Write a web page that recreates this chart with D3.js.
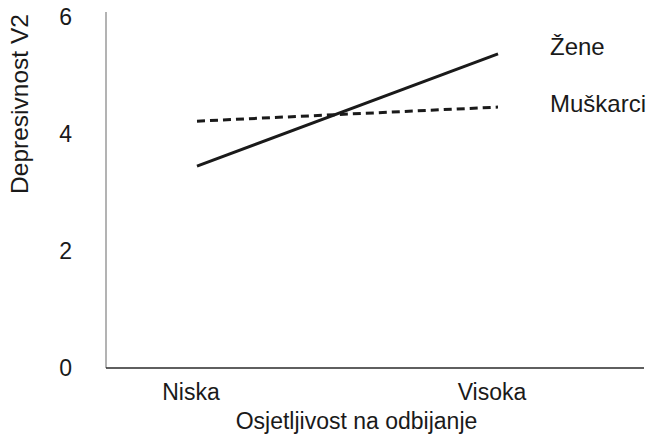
<!DOCTYPE html>
<html>
<head>
<meta charset="utf-8">
<script src="https://cdn.jsdelivr.net/npm/d3@7"></script>
<style>
  html, body { margin: 0; padding: 0; background: #fff; }
  svg { display: block; font-family: "Liberation Sans", Arial, sans-serif; }
</style>
</head>
<body>
<svg id="chart" width="648" height="435"></svg>
<script>
// Categories on the x axis
const categories = ["Niska", "Visoka"];
// Series names and their values at each category
const seriesNames = ["Žene", "Muškarci"];
const zeneValues = [3.45, 5.37];
const muskarciValues = [4.22, 4.46];
// Y tick values
const yTicks = [0, 2, 4, 6];
const xTitle = "Osjetljivost na odbijanje";
const yTitle = "Depresivnost V2";

const series = [
  { name: seriesNames[0], values: zeneValues, dash: null },
  { name: seriesNames[1], values: muskarciValues, dash: "8,5" }
];

const svg = d3.select("#chart");
const fontSize = 23;
const ink = "#1a1a1a";

const plot = { left: 106, right: 644, top: 17, bottom: 368 };

const x = d3.scalePoint()
  .domain(categories)
  .range([197, 498]);

const y = d3.scaleLinear()
  .domain([0, 6])
  .range([plot.bottom, plot.top]);

// Y axis: labels only, with a thin grey spine
const yAxis = d3.axisLeft(y).tickValues(yTicks).tickSize(0).tickPadding(0).tickFormat(d3.format("d"));
const gy = svg.append("g")
  .attr("transform", `translate(${plot.left - 34},0)`)
  .call(yAxis);
gy.select(".domain").remove();
gy.selectAll("text")
  .attr("font-size", fontSize)
  .attr("font-family", "Liberation Sans, Arial, sans-serif")
  .attr("fill", ink);

svg.append("line")
  .attr("x1", plot.left).attr("x2", plot.left)
  .attr("y1", y(0)).attr("y2", y(6) - 5)
  .attr("stroke", "#808080")
  .attr("stroke-width", 1.2);

// X axis spine and category labels
svg.append("line")
  .attr("x1", plot.left).attr("x2", plot.right)
  .attr("y1", y(0)).attr("y2", y(0))
  .attr("stroke", "#2a2a2a")
  .attr("stroke-width", 1.6);

svg.append("g")
  .selectAll("text")
  .data(categories)
  .join("text")
  .attr("x", d => x(d) - 6)
  .attr("y", y(0) + 32)
  .attr("text-anchor", "middle")
  .attr("font-size", fontSize)
  .attr("fill", ink)
  .text(d => d);

// Axis titles
svg.append("text")
  .attr("x", (x(categories[0]) + x(categories[1])) / 2 - 6 + 15)
  .attr("y", 429)
  .attr("text-anchor", "middle")
  .attr("font-size", fontSize)
  .attr("fill", ink)
  .text(xTitle);

svg.append("text")
  .attr("transform", `translate(28,104) rotate(-90)`)
  .attr("text-anchor", "middle")
  .attr("font-size", 24.5)
  .attr("fill", ink)
  .text(yTitle);

// Series lines
const line = d3.line()
  .x((d, i) => x(categories[i]))
  .y(d => y(d));

svg.append("g")
  .selectAll("path")
  .data(series)
  .join("path")
  .attr("d", d => line(d.values))
  .attr("fill", "none")
  .attr("stroke", ink)
  .attr("stroke-width", 3)
  .attr("stroke-dasharray", d => d.dash);

// Series labels beside the line ends
const labelY = { "Žene": 55, "Muškarci": 112 };
svg.append("g")
  .selectAll("text")
  .data(series)
  .join("text")
  .attr("x", 550)
  .attr("y", d => labelY[d.name])
  .attr("font-size", 24)
  .attr("fill", ink)
  .text(d => d.name);
</script>
</body>
</html>
